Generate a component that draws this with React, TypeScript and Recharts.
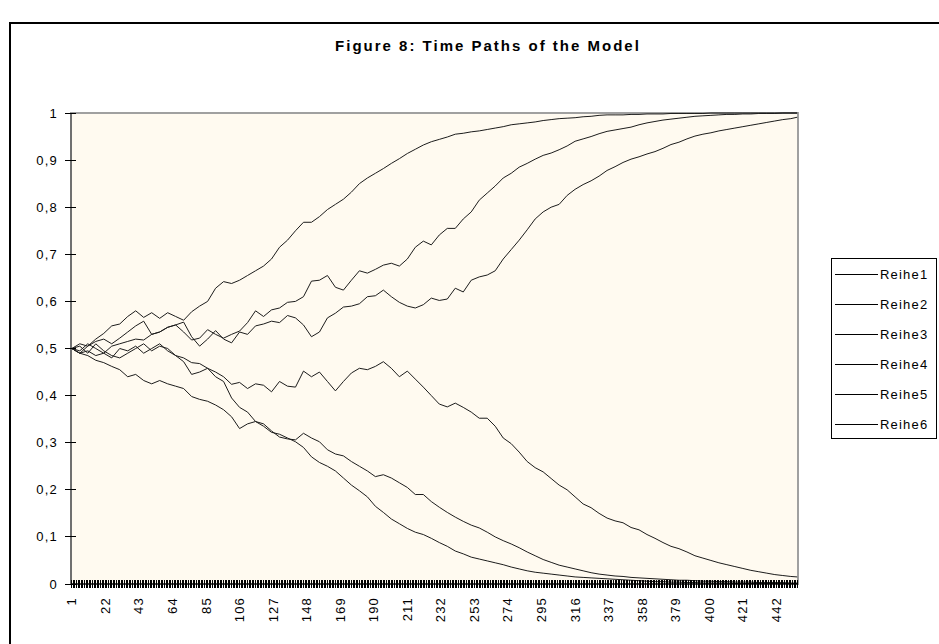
import { LineChart, Line, XAxis, YAxis, ReferenceArea, Legend } from 'recharts'

const steps = [
  1, 6, 11, 16, 21, 26, 31, 36, 41, 46, 51, 56, 61, 66, 71, 76, 81, 86, 91, 96,
  101, 106, 111, 116, 121, 126, 131, 136, 141, 146, 151, 156, 161, 166, 171, 176, 181, 186, 191, 196,
  201, 206, 211, 216, 221, 226, 231, 236, 241, 246, 251, 256, 261, 266, 271, 276, 281, 286, 291, 296,
  301, 306, 311, 316, 321, 326, 331, 336, 341, 346, 351, 356, 361, 366, 371, 376, 381, 386, 391, 396,
  401, 406, 411, 416, 421, 426, 431, 436, 441, 446, 451, 455,
]

const reihe1 = [
  0.500, 0.510, 0.505, 0.520, 0.532, 0.548, 0.552, 0.568, 0.580, 0.566,
  0.576, 0.564, 0.576, 0.568, 0.560, 0.578, 0.590, 0.600, 0.628, 0.642,
  0.638, 0.645, 0.655, 0.665, 0.675, 0.690, 0.715, 0.730, 0.750, 0.768,
  0.768, 0.780, 0.795, 0.806, 0.817, 0.832, 0.850, 0.862, 0.872, 0.882,
  0.893, 0.903, 0.914, 0.923, 0.932, 0.939, 0.944, 0.949, 0.955, 0.957,
  0.960, 0.962, 0.965, 0.968, 0.971, 0.975, 0.977, 0.979, 0.981, 0.984,
  0.986, 0.988, 0.989, 0.990, 0.992, 0.993, 0.995, 0.996, 0.996, 0.996,
  0.997, 0.997, 0.998, 0.998, 0.998, 0.999, 0.999, 0.999, 0.999, 0.999,
  1, 1, 1, 1, 1, 1, 1, 1, 1, 1,
  1, 1,
]
const reihe2 = [
  0.500, 0.490, 0.505, 0.515, 0.520, 0.510, 0.522, 0.535, 0.548, 0.558,
  0.530, 0.535, 0.545, 0.550, 0.535, 0.518, 0.522, 0.540, 0.530, 0.522,
  0.530, 0.537, 0.555, 0.580, 0.568, 0.582, 0.586, 0.598, 0.600, 0.610,
  0.643, 0.645, 0.655, 0.630, 0.624, 0.645, 0.665, 0.660, 0.668, 0.677,
  0.681, 0.675, 0.690, 0.715, 0.728, 0.720, 0.741, 0.755, 0.755, 0.775,
  0.790, 0.815, 0.830, 0.845, 0.862, 0.872, 0.885, 0.893, 0.902, 0.910,
  0.915, 0.922, 0.930, 0.940, 0.945, 0.950, 0.956, 0.961, 0.964, 0.967,
  0.970, 0.975, 0.979, 0.982, 0.985, 0.987, 0.989, 0.991, 0.993, 0.994,
  0.995, 0.996, 0.997, 0.997, 0.998, 0.998, 0.999, 0.999, 0.999, 1,
  1, 1,
]
const reihe3 = [
  0.500, 0.495, 0.510, 0.500, 0.490, 0.505, 0.510, 0.515, 0.520, 0.518,
  0.530, 0.535, 0.545, 0.550, 0.556, 0.525, 0.505, 0.520, 0.538, 0.520,
  0.512, 0.535, 0.530, 0.548, 0.552, 0.558, 0.555, 0.570, 0.565, 0.550,
  0.525, 0.535, 0.565, 0.575, 0.588, 0.590, 0.595, 0.610, 0.612, 0.624,
  0.610, 0.598, 0.590, 0.586, 0.593, 0.607, 0.602, 0.605, 0.628, 0.620,
  0.645, 0.652, 0.656, 0.665, 0.690, 0.710, 0.730, 0.752, 0.775, 0.790,
  0.800, 0.806, 0.825, 0.838, 0.848, 0.856, 0.866, 0.878, 0.886, 0.895,
  0.902, 0.907, 0.913, 0.918, 0.925, 0.933, 0.938, 0.945, 0.951, 0.955,
  0.958, 0.962, 0.965, 0.968, 0.971, 0.974, 0.977, 0.980, 0.983, 0.986,
  0.988, 0.991,
]
const reihe4 = [
  0.500, 0.490, 0.495, 0.485, 0.490, 0.480, 0.500, 0.495, 0.505, 0.490,
  0.500, 0.510, 0.495, 0.485, 0.480, 0.470, 0.468, 0.458, 0.450, 0.440,
  0.424, 0.428, 0.415, 0.425, 0.422, 0.408, 0.430, 0.420, 0.418, 0.452,
  0.440, 0.450, 0.430, 0.410, 0.430, 0.448, 0.458, 0.455, 0.462, 0.472,
  0.458, 0.440, 0.452, 0.435, 0.418, 0.400, 0.382, 0.376, 0.384, 0.375,
  0.365, 0.352, 0.352, 0.335, 0.310, 0.298, 0.280, 0.260, 0.247, 0.238,
  0.224, 0.210, 0.200, 0.185, 0.170, 0.162, 0.150, 0.140, 0.134, 0.130,
  0.120, 0.115, 0.105, 0.097, 0.088, 0.080, 0.075, 0.068, 0.060, 0.055,
  0.050, 0.045, 0.041, 0.037, 0.033, 0.029, 0.026, 0.023, 0.020, 0.018,
  0.016, 0.015,
]
const reihe5 = [
  0.500, 0.505, 0.490, 0.510, 0.495, 0.485, 0.480, 0.490, 0.500, 0.510,
  0.495, 0.505, 0.500, 0.485, 0.472, 0.445, 0.450, 0.458, 0.440, 0.430,
  0.395, 0.375, 0.365, 0.345, 0.340, 0.325, 0.312, 0.308, 0.306, 0.320,
  0.310, 0.302, 0.285, 0.276, 0.272, 0.260, 0.250, 0.240, 0.228, 0.232,
  0.225, 0.215, 0.205, 0.190, 0.190, 0.175, 0.163, 0.152, 0.142, 0.133,
  0.125, 0.119, 0.110, 0.100, 0.092, 0.085, 0.077, 0.068, 0.060, 0.052,
  0.046, 0.040, 0.036, 0.032, 0.028, 0.024, 0.021, 0.019, 0.017, 0.016,
  0.014, 0.013, 0.012, 0.011, 0.010, 0.009, 0.008, 0.008, 0.007, 0.006,
  0.006, 0.005, 0.005, 0.004, 0.004, 0.004, 0.003, 0.003, 0.003, 0.003,
  0.002, 0.002,
]
const reihe6 = [
  0.500, 0.490, 0.485, 0.475, 0.470, 0.462, 0.455, 0.440, 0.445, 0.432,
  0.425, 0.432, 0.425, 0.420, 0.415, 0.398, 0.392, 0.388, 0.380, 0.370,
  0.355, 0.330, 0.340, 0.345, 0.335, 0.322, 0.318, 0.310, 0.302, 0.290,
  0.270, 0.258, 0.250, 0.240, 0.225, 0.210, 0.198, 0.185, 0.165, 0.152,
  0.138, 0.128, 0.118, 0.110, 0.105, 0.097, 0.088, 0.080, 0.070, 0.064,
  0.057, 0.053, 0.049, 0.045, 0.041, 0.036, 0.032, 0.028, 0.025, 0.023,
  0.021, 0.019, 0.017, 0.015, 0.014, 0.013, 0.012, 0.011, 0.010, 0.009,
  0.008, 0.007, 0.006, 0.005, 0.005, 0.004, 0.004, 0.003, 0.003, 0.002,
  0.002, 0.002, 0.002, 0.001, 0.001, 0.001, 0.001, 0.001, 0.001, 0.001,
  0.001, 0.001,
]

const seriesNames = ['Reihe1', 'Reihe2', 'Reihe3', 'Reihe4', 'Reihe5', 'Reihe6']
const seriesValues = [reihe1, reihe2, reihe3, reihe4, reihe5, reihe6]

const xLabels = [1, 22, 43, 64, 85, 106, 127, 148, 169, 190, 211, 232, 253, 274, 295, 316, 337, 358, 379, 400, 421, 442]
const yTicks = [0, 0.1, 0.2, 0.3, 0.4, 0.5, 0.6, 0.7, 0.8, 0.9, 1]
const periods = 455

const data = steps.map((t, i) => {
  const row: Record<string, number> = { t }
  seriesNames.forEach((n, j) => { row[n] = seriesValues[j][i] })
  return row
})

// one tick mark per period, like the excel category axis
const tickMarks = Array.from({ length: periods }, (_, i) => i + 1)

const FONT = '"Liberation Sans", Arial, sans-serif'
const LINE = '#1c1c1c'

function XTick({ x, y, payload }: any) {
  const v = payload.value
  const ly = y + 13
  return (
    <g>
      <line x1={x} x2={x} y1={y - 4} y2={y + 4} stroke="#000" shapeRendering="crispEdges" />
      {xLabels.includes(v) && (
        <text
          x={x}
          y={ly}
          transform={`rotate(-90 ${x} ${ly})`}
          textAnchor="end"
          dominantBaseline="central"
          fontFamily={FONT}
          fontSize={13}
          letterSpacing={1.2}
          fill="#000"
        >
          {v}
        </text>
      )}
    </g>
  )
}

function YTick({ x, y, payload }: any) {
  const v = payload.value
  const label = v === 0 ? '0' : v === 1 ? '1' : v.toFixed(1).replace('.', ',')
  return (
    <g>
      <line x1={x - 6} x2={x + 5} y1={y} y2={y} stroke="#000" shapeRendering="crispEdges" />
      <text x={x - 13} y={y} textAnchor="end" dominantBaseline="central"
        fontFamily={FONT} fontSize={13} letterSpacing={1.2} fill="#000">
        {label}
      </text>
    </g>
  )
}

function LegendBox({ payload }: any) {
  return (
    <div style={{
      width: 106, height: 181, boxSizing: 'border-box', border: '1px solid #000',
      background: '#fff', position: 'relative', fontFamily: FONT, fontSize: 13,
    }}>
      {(payload || []).map((p: any, i: number) => (
        <div key={p.value} style={{
          position: 'absolute', left: 3, top: 15 + i * 30 - 8, height: 16,
          display: 'flex', alignItems: 'center', whiteSpace: 'nowrap',
        }}>
          <span style={{ display: 'inline-block', width: 43, borderTop: '1px solid #000' }} />
          <span style={{ marginLeft: 2, letterSpacing: 1.2, color: '#000' }}>{p.value}</span>
        </div>
      ))}
    </div>
  )
}

export default function App() {
  return (
    <div style={{ position: 'absolute', left: 0, top: 0, width: 939, height: 644, overflow: 'hidden', background: '#fff' }}>
      <div style={{
        position: 'absolute', left: 9, top: 22, width: 1000, height: 700,
        borderLeft: '2px solid #000', borderTop: '2px solid #000',
      }} />
      <div style={{
        position: 'absolute', left: 188, width: 600, top: 37, textAlign: 'center',
        fontFamily: FONT, fontSize: 15, fontWeight: 'bold', letterSpacing: 2, color: '#000',
      }}>
        Figure 8: Time Paths of the Model
      </div>
      <LineChart
        width={939}
        height={644}
        data={data}
        margin={{ top: 113, right: 141, left: 11, bottom: 10 }}
        style={{ position: 'absolute', left: 0, top: 0 }}
      >
        <ReferenceArea x1={0.5} x2={periods + 0.5} y1={0} y2={1}
          fill="#FFFAF0" fillOpacity={1} stroke="#A0A0A0" strokeWidth={2} />
        <XAxis
          dataKey="t"
          type="number"
          domain={[0.5, periods + 0.5]}
          ticks={tickMarks}
          interval={0}
          tick={<XTick />}
          tickLine={false}
          tickSize={0}
          tickMargin={0}
          height={50}
          axisLine={{ stroke: '#000', strokeWidth: 1 }}
        />
        <YAxis
          type="number"
          domain={[0, 1]}
          ticks={yTicks}
          interval={0}
          tick={<YTick />}
          tickLine={false}
          tickSize={0}
          tickMargin={0}
          width={60}
          axisLine={{ stroke: '#707070', strokeWidth: 2 }}
        />
        {seriesNames.map(n => (
          <Line key={n} dataKey={n} type="linear" stroke={LINE} strokeWidth={1}
            dot={false} isAnimationActive={false} />
        ))}
        <Legend
          layout="vertical"
          align="center"
          verticalAlign="middle"
          content={<LegendBox />}
          wrapperStyle={{ left: 831, top: 258, width: 106, height: 181 }}
        />
      </LineChart>
    </div>
  )
}
